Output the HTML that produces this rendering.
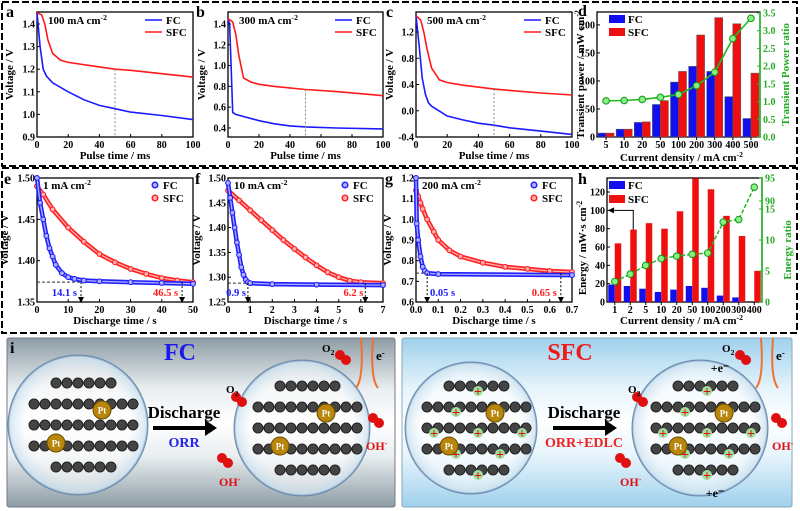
<!DOCTYPE html>
<html><head><meta charset="utf-8"><style>
html,body{margin:0;padding:0;background:#fff}
svg{display:block;font-family:"Liberation Serif",serif;font-weight:bold}
</style></head><body>
<svg id="fig" width="800" height="511" viewBox="0 0 800 511" xmlns="http://www.w3.org/2000/svg">
<defs>
<linearGradient id="gGray" x1="0" y1="0" x2="0" y2="1"><stop offset="0" stop-color="#8d9ca5"/><stop offset="0.3" stop-color="#e9eef0"/><stop offset="0.5" stop-color="#ffffff"/><stop offset="0.7" stop-color="#e9eef0"/><stop offset="1" stop-color="#8d9ca5"/></linearGradient>
<linearGradient id="gBlue" x1="0" y1="0" x2="0" y2="1"><stop offset="0" stop-color="#9fd0ec"/><stop offset="0.3" stop-color="#e6f4fb"/><stop offset="0.5" stop-color="#ffffff"/><stop offset="0.7" stop-color="#e6f4fb"/><stop offset="1" stop-color="#9fd0ec"/></linearGradient>
<radialGradient id="gBub" cx="0.5" cy="0.5" r="0.5"><stop offset="0.75" stop-color="#ffffff" stop-opacity="0.55"/><stop offset="0.97" stop-color="#cfe3f0" stop-opacity="0.8"/><stop offset="1" stop-color="#5a7fa8" stop-opacity="0.9"/></radialGradient>
<marker id="arr" markerWidth="6" markerHeight="6" refX="3" refY="3" orient="auto"><path d="M0,0 L6,3 L0,6z" fill="#000"/></marker>
</defs>
<rect x="0" y="0" width="800" height="511" fill="#fff"/>
<rect x="2" y="2" width="795" height="164" fill="none" stroke="#000" stroke-width="2" stroke-dasharray="7,3"/>
<rect x="2" y="168" width="795" height="165" fill="none" stroke="#000" stroke-width="2" stroke-dasharray="7,3"/>
<g id="charts"></g>
<g id="scheme"></g>
</svg>
<script>
// ---------- data ----------
const aT=[0,2,4,6,10,20,30,40,50,60,80,100];
const aFC=[1.45,1.3,1.2,1.17,1.14,1.1,1.065,1.04,1.025,1.01,0.995,0.977];
const aTs=[0,3,5,7,10,15,20,40,50,60,80,100];
const aSFC=[1.45,1.44,1.4,1.33,1.27,1.24,1.23,1.21,1.2,1.195,1.18,1.165];
const bT=[0,1,2,3,5,10,20,30,40,50,70,100];
const bFC=[1.45,1.4,1.0,0.55,0.53,0.51,0.47,0.44,0.42,0.41,0.4,0.39];
const bTs=[0,3,5,7,10,15,20,30,50,70,100];
const bSFC=[1.45,1.42,1.3,1.1,0.88,0.84,0.82,0.8,0.77,0.75,0.71];
const cT=[0,2,4,6,8,10,20,30,40,50,60,80,100];
const cFC=[1.45,1.0,0.5,0.25,0.12,0.07,-0.08,-0.14,-0.19,-0.22,-0.26,-0.31,-0.36];
const cTs=[0,3,5,7,10,15,20,30,40,50,60,80,100];
const cSFC=[1.45,1.38,1.2,0.95,0.65,0.47,0.43,0.39,0.36,0.33,0.31,0.27,0.24];
const dCats=["5","10","20","50","100","200","300","400","500"];
const dFC=[7,14,26,58,98,126,117,72,33];
const dSFC=[7,14,27,65,117,182,213,202,114];
const dRatio=[1.02,1.03,1.06,1.12,1.2,1.45,1.83,2.78,3.35];
const eT=[0,1,2,3,4,5,6,8,10,12,15,20,30,40,50];
const eFC=[1.5,1.47,1.45,1.43,1.415,1.405,1.395,1.385,1.38,1.378,1.376,1.375,1.374,1.373,1.372];
const eTs=[0,2,5,10,15,20,25,30,35,40,45,50];
const eSFC=[1.49,1.48,1.462,1.44,1.423,1.408,1.398,1.39,1.384,1.379,1.376,1.374];
const fT=[0,0.1,0.2,0.3,0.4,0.5,0.6,0.7,0.8,0.9,1,2,4,7];
const fFC=[1.49,1.46,1.43,1.4,1.37,1.345,1.32,1.305,1.295,1.29,1.288,1.286,1.285,1.284];
const fTs=[0,0.5,1,1.5,2,2.5,3,3.5,4,4.5,5,5.5,6,7];
const fSFC=[1.475,1.455,1.435,1.415,1.395,1.375,1.357,1.34,1.324,1.31,1.3,1.293,1.29,1.288];
const gT=[0,0.003,0.01,0.02,0.03,0.04,0.05,0.1,0.7];
const gFC=[1.2,0.98,0.9,0.82,0.77,0.75,0.74,0.735,0.73];
const gTs=[0,0.01,0.02,0.03,0.05,0.08,0.1,0.15,0.2,0.3,0.4,0.5,0.6,0.7];
const gSFC=[1.14,1.11,1.08,1.05,1.0,0.94,0.9,0.85,0.82,0.79,0.77,0.76,0.75,0.745];
const hCats=["1","2","5","10","20","50","100","200","300","400"];
const hFC=[19,17.5,14.5,11,13.5,17.5,15.5,7,5,0];
const hSFC=[64,79,86,80,99,135,123,94,72,34];
const hRatio=[3.3,4.5,5.9,7,7.4,7.7,7.9,12.9,13.3,93];

const NS="http://www.w3.org/2000/svg";
const root=document.getElementById('charts');
function el(tag,attrs,parent,text){const e=document.createElementNS(NS,tag);for(const k in attrs)e.setAttribute(k,attrs[k]);if(text!==undefined)e.textContent=text;(parent||root).appendChild(e);return e;}
function scale(d0,d1,r0,r1){return v=>r0+(v-d0)/(d1-d0)*(r1-r0);}
function txt(x,y,s,size,parent,anchor,fill,name){const t=el('text',{x:x,y:y,'font-size':size,'text-anchor':anchor||'middle',fill:fill||'#000'},parent,s);return t;}
function supText(x,y,main,sup,size,parent,anchor,fill,name,sub){const t=el('text',{x:x,y:y,'font-size':size,'text-anchor':anchor||'start',fill:fill||'#000'},parent);el('tspan',{},t,main);el('tspan',{dy:sub?3:-4,'font-size':size*0.7},t,sup);return t;}

function axes(g,P,xt,xl,yt,yl,sx,sy,xTitle,yTitle,yTitleX){
  const f=el('rect',{x:P.x0,y:P.y0,width:P.x1-P.x0,height:P.y1-P.y0,fill:'none',stroke:'#000','stroke-width':1.3},g);
  
  xt.forEach((v,i)=>{const x=sx(v);el('line',{x1:x,x2:x,y1:P.y1,y2:P.y1-3,stroke:'#000'},g);
    const t=txt(x,P.y1+11,xl[i],10,g);});
  yt.forEach((v,i)=>{const y=sy(v);el('line',{x1:P.x0,x2:P.x0+3,y1:y,y2:y,stroke:'#000'},g);
    const t=txt(P.x0-2,y+3.5,yl[i],10,g,'end');});
  if(xTitle){const t=txt((P.x0+P.x1)/2,P.y1+22,xTitle,11,g);}
  if(yTitle){const cy=(P.y0+P.y1)/2;const t=el('text',{x:yTitleX,y:cy,'font-size':11,'text-anchor':'middle',transform:`rotate(-90 ${yTitleX} ${cy})`},g,yTitle);}
}
function path(xs,ys,sx,sy){return xs.map((v,i)=>(i?'L':'M')+sx(v).toFixed(1)+','+sy(ys[i]).toFixed(1)).join(' ');}
function interpY(xs,ys,x){for(let i=1;i<xs.length;i++){if(x<=xs[i]){const r=(x-xs[i-1])/(xs[i]-xs[i-1]);return ys[i-1]+r*(ys[i]-ys[i-1]);}}return ys[ys.length-1];}

function linePanel(o){
  const g=el('g',{});
  const sx=scale(o.xd[0],o.xd[1],o.P.x0,o.P.x1),sy=scale(o.yd[0],o.yd[1],o.P.y1,o.P.y0);
  axes(g,o.P,o.xt,o.xt.map(v=>o.xfmt?o.xfmt(v):String(v)),o.yt,o.yt.map(v=>v.toFixed(o.ydec)),sx,sy,o.xTitle,'Voltage / V',o.ytx);
  const fcl=el('path',{d:path(o.t1,o.v1,sx,sy),fill:'none',stroke:'#1a1aff','stroke-width':1.6},g);
  
  const sfl=el('path',{d:path(o.t2,o.v2,sx,sy),fill:'none',stroke:'#ff1a1a','stroke-width':1.6},g);
  
  const x50=sx(50);
  const vl=el('line',{x1:x50,x2:x50,y1:sy(interpY(o.t2,o.v2,50)),y2:o.P.y1,stroke:'#888','stroke-dasharray':'2,2'},g);
  
  supText(o.P.x0+11,o.P.y0+12,o.cur,'-2',11,g,'start','#000','current-label');
  const lx=o.P.x1-48;
  const l1=el('line',{x1:lx,x2:lx+17,y1:o.P.y0+8,y2:o.P.y0+8,stroke:'#1a1aff','stroke-width':1.6},g);
  txt(lx+21,o.P.y0+12,'FC',11,g,'start','#000','legend-fc-label');
  const l2=el('line',{x1:lx,x2:lx+17,y1:o.P.y0+20,y2:o.P.y0+20,stroke:'#ff1a1a','stroke-width':1.6},g);
  txt(lx+21,o.P.y0+24,'SFC',11,g,'start','#000','legend-sfc-label');
  txt(o.lx,o.ly,o.letter,16,g,'start','#000','panel-letter-'+o.letter);
}
function scatterPanel(o){
  const g=el('g',{});
  const sx=scale(o.xd[0],o.xd[1],o.P.x0,o.P.x1),sy=scale(o.yd[0],o.yd[1],o.P.y1,o.P.y0);
  axes(g,o.P,o.xt,o.xt.map(v=>o.xfmt?o.xfmt(v):String(v)),o.yt,o.yt.map(v=>v.toFixed(o.ydec)),sx,sy,'Discharge time / s','Voltage / V',o.ytx);
  const hy=sy(o.ref);
  el('line',{x1:o.P.x0,x2:o.P.x1,y1:hy,y2:hy,stroke:'#333','stroke-dasharray':'3,2'},g);
  [[o.t2,o.v2,'#ff2020','#ffb0b0','sfc-series'],[o.t1,o.v1,'#2020ff','#b0b0ff','fc-series']].forEach(s=>{
    const p=el('path',{d:path(s[0],s[1],sx,sy),fill:'none',stroke:s[2],'stroke-width':4.5,'stroke-linejoin':'round'},g);
    
    el('path',{d:path(s[0],s[1],sx,sy),fill:'none',stroke:s[3],'stroke-width':1.3},g);
    s[0].forEach((v,i)=>{const c=el('circle',{cx:sx(v),cy:sy(s[1][i]),r:2.4,fill:s[3],stroke:s[2],'stroke-width':1.1},g);
      });
  });
  [[o.m1,'#1a1aff',o.m1t,o.m1dx],[o.m2,'#ff1a1a',o.m2t,o.m2dx]].forEach(m=>{
    const x=sx(m[0]);const ln=el('line',{x1:x,x2:x,y1:hy,y2:o.P.y1-2,stroke:'#000','stroke-dasharray':'2,2','marker-end':'url(#arr)'},g);
    
    txt(x+m[3],o.P.y1-6,m[2],10.5,g,'end',m[1],'time-annotation');
  });
  supText(o.P.x0+6,o.P.y0+11,o.cur,'-2',11,g,'start','#000','current-label');
  const lx=o.P.x1-38;
  const c1=el('circle',{cx:lx,cy:o.P.y0+7,r:2.8,fill:'#b0b0ff',stroke:'#2020ff','stroke-width':1.5},g);
  txt(lx+8,o.P.y0+11,'FC',11,g,'start','#000','legend-fc-label');
  const c2=el('circle',{cx:lx,cy:o.P.y0+20,r:2.8,fill:'#ffb0b0',stroke:'#ff2020','stroke-width':1.5},g);
  txt(lx+8,o.P.y0+24,'SFC',11,g,'start','#000','legend-sfc-label');
  txt(o.lx,o.ly,o.letter,16,g,'start','#000','panel-letter-'+o.letter);
}
linePanel({name:'panel-a',letter:'a',lx:6,ly:17,P:{x0:37,x1:193,y0:12,y1:137},xd:[0,100],yd:[0.9,1.453],xt:[0,20,40,60,80,100],yt:[0.9,1.0,1.1,1.2,1.3,1.4],ydec:1,xTitle:'Pulse time / ms',ytx:13,t1:aT,v1:aFC,t2:aTs,v2:aSFC,cur:'100 mA cm'});
linePanel({name:'panel-b',letter:'b',lx:196,ly:17,P:{x0:228,x1:383,y0:12,y1:137},xd:[0,100],yd:[0.313,1.515],xt:[0,20,40,60,80,100],yt:[0.4,0.6,0.8,1.0,1.2,1.4],ydec:1,xTitle:'Pulse time / ms',ytx:205,t1:bT,v1:bFC,t2:bTs,v2:bSFC,cur:'300 mA cm'});
linePanel({name:'panel-c',letter:'c',lx:386,ly:17,P:{x0:416,x1:572,y0:12,y1:137},xd:[0,100],yd:[-0.4,1.505],xt:[0,20,40,60,80,100],yt:[-0.4,0.0,0.4,0.8,1.2],ydec:1,xTitle:'Pulse time / ms',ytx:393,t1:cT,v1:cFC,t2:cTs,v2:cSFC,cur:'500 mA cm'});
scatterPanel({name:'panel-e',letter:'e',lx:4,ly:184,P:{x0:37,x1:193,y0:178,y1:302},xd:[0,50],yd:[1.35,1.5],xt:[0,10,20,30,40,50],yt:[1.35,1.40,1.45,1.50],ydec:2,ytx:8,t1:eT,v1:eFC,t2:eTs,v2:eSFC,ref:1.374,m1:14.1,m1t:'14.1 s',m1dx:-4,m2:46.5,m2t:'46.5 s',m2dx:-4,cur:'1 mA cm'});
scatterPanel({name:'panel-f',letter:'f',lx:195,ly:184,P:{x0:228,x1:383,y0:178,y1:302},xd:[0,7],yd:[1.25,1.5],xt:[0,1,2,3,4,5,6,7],yt:[1.25,1.30,1.35,1.40,1.45,1.50],ydec:2,ytx:200,t1:fT,v1:fFC,t2:fTs,v2:fSFC,ref:1.288,m1:0.9,m1t:'0.9 s',m1dx:-2,m2:6.2,m2t:'6.2 s',m2dx:-2,cur:'10 mA cm'});
scatterPanel({name:'panel-g',letter:'g',lx:385,ly:184,P:{x0:416,x1:572,y0:178,y1:302},xd:[0,0.7],yd:[0.6,1.2],xt:[0,0.1,0.2,0.3,0.4,0.5,0.6,0.7],xfmt:v=>v.toFixed(1),yt:[0.6,0.7,0.8,0.9,1.0,1.1,1.2],ydec:1,ytx:391,t1:gT,v1:gFC,t2:gTs,v2:gSFC,ref:0.74,m1:0.05,m1t:'0.05 s',m1dx:28,m2:0.65,m2t:'0.65 s',m2dx:-4,cur:'200 mA cm'});

// ---------- panel d ----------
(function(){
  const g=el('g',{});
  const P={x0:597,x1:760,y0:12,y1:137};
  const sy=scale(0,223,P.y1,P.y0),sr=scale(0,3.5,P.y1,13);
  const cw=(P.x1-P.x0)/dCats.length,cx=i=>P.x0+cw*(i+0.5);
  axes(g,P,[],[],[0,50,100,150,200],['0','50','100','150','200'],v=>v,sy,null,null,0);
  dCats.forEach((c,i)=>{
    const b1=el('rect',{x:cx(i)-8,y:sy(dFC[i]),width:8,height:P.y1-sy(dFC[i]),fill:'#1010ee',stroke:'#555','stroke-width':0.5},g);
    
    const b2=el('rect',{x:cx(i),y:sy(dSFC[i]),width:8,height:P.y1-sy(dSFC[i]),fill:'#ee1010',stroke:'#555','stroke-width':0.5},g);
    
    el('line',{x1:cx(i),x2:cx(i),y1:P.y1,y2:P.y1+3,stroke:'#000'},g);
    txt(cx(i),P.y1+11,c,10,g,'middle','#000','x-tick-label');
  });
  el('line',{x1:P.x1,x2:P.x1,y1:P.y0,y2:P.y1,stroke:'#22bb22','stroke-width':1.5},g);
  [0,0.5,1,1.5,2,2.5,3,3.5].forEach(v=>{el('line',{x1:P.x1,x2:P.x1-3,y1:sr(v),y2:sr(v),stroke:'#22bb22'},g);txt(P.x1+3,sr(v)+3.5,v.toFixed(1),10,g,'start','#22aa22','y2-tick-label');});
  const ln=el('path',{d:dRatio.map((v,i)=>(i?'L':'M')+cx(i)+','+sr(v)).join(' '),fill:'none',stroke:'#22bb22','stroke-width':1.6},g);
  
  dRatio.forEach((v,i)=>{const c=el('circle',{cx:cx(i),cy:sr(v),r:3.3,fill:'#88ee88',stroke:'#119911'},g);});
  supText(620,P.y1+24,'Current density / mA cm','-2',11,g,'start','#000','x-axis-title');
  const yt=el('text',{x:0,y:0,'font-size':11,'text-anchor':'middle',transform:`translate(584 ${(P.y0+P.y1)/2}) rotate(-90)`},g);
  el('tspan',{},yt,'Transient power / mW cm');el('tspan',{dy:-4,'font-size':8},yt,'-2');
  const y2=el('text',{x:0,y:0,'font-size':11,'text-anchor':'middle',fill:'#22aa22',transform:`translate(789 ${(P.y0+P.y1)/2}) rotate(-90)`},g,'Transient Power ratio');
  const k1=el('rect',{x:609,y:15,width:16,height:8,fill:'#1010ee'},g);
  txt(628,23,'FC',11,g,'start','#000','legend-fc-label');
  const k2=el('rect',{x:609,y:28,width:16,height:8,fill:'#ee1010'},g);
  txt(628,36,'SFC',11,g,'start','#000','legend-sfc-label');
  txt(578,16,'d',16,g,'start','#000','panel-letter-d');
})();

// ---------- panel h ----------
(function(){
  const g=el('g',{});
  const P={x0:607,x1:762,y0:178,y1:302};
  const sy=scale(0,135.3,P.y1,P.y0);
  const srLow=scale(0,5,P.y1,271),srHigh=scale(90,95,201,178);
  const sr=v=>v>50?srHigh(v):srLow(v);
  const cw=(P.x1-P.x0)/hCats.length,cx=i=>P.x0+cw*(i+0.5);
  axes(g,P,[],[],[0,20,40,60,80,100,120],['0','20','40','60','80','100','120'],v=>v,sy,null,null,0);
  hCats.forEach((c,i)=>{
    const b1=el('rect',{x:cx(i)-6.5,y:sy(hFC[i]),width:6.5,height:P.y1-sy(hFC[i]),fill:'#1010ee'},g);
    
    const b2=el('rect',{x:cx(i),y:sy(hSFC[i]),width:6.5,height:P.y1-sy(hSFC[i]),fill:'#ee1010'},g);
    
    el('line',{x1:cx(i),x2:cx(i),y1:P.y1,y2:P.y1+3,stroke:'#000'},g);
    txt(cx(i),P.y1+11,c,10,g,'middle','#000','x-tick-label');
  });
  el('line',{x1:P.x1,x2:P.x1,y1:P.y0,y2:P.y1,stroke:'#22bb22','stroke-width':1.5},g);
  [0,5,10,15].forEach(v=>{el('line',{x1:P.x1,x2:P.x1-3,y1:sr(v),y2:sr(v),stroke:'#22bb22'},g);txt(P.x1+3,sr(v)+3.5,String(v),10,g,'start','#22aa22','y2-tick-label');});
  [90,95].forEach(v=>{el('line',{x1:P.x1,x2:P.x1-3,y1:sr(v),y2:sr(v),stroke:'#22bb22'},g);txt(P.x1+3,sr(v)+3.5,String(v),10,g,'start','#22aa22','y2-tick-label');});
  const ln=el('path',{d:hRatio.map((v,i)=>(i?'L':'M')+cx(i).toFixed(1)+','+sr(v).toFixed(1)).join(' '),fill:'none',stroke:'#22bb22','stroke-width':1.5,'stroke-dasharray':'4,2'},g);
  
  hRatio.forEach((v,i)=>{const c=el('circle',{cx:cx(i),cy:sr(v),r:3.3,fill:'#88ee88',stroke:'#119911'},g);});
  const ar=el('path',{d:`M${cx(1)+3},${sy(hSFC[1])} L${cx(1)+3},${sy(100)} L${P.x0+4},${sy(100)}`,fill:'none',stroke:'#000','marker-end':'url(#arr)'},g);
  
  supText(620,P.y1+22,'Current density / mA cm','-2',11,g,'start','#000','x-axis-title');
  const yt=el('text',{x:0,y:0,'font-size':11,'text-anchor':'middle',transform:`translate(586 ${(P.y0+P.y1)/2+8}) rotate(-90)`},g);
  el('tspan',{},yt,'Energy / mW·s cm');el('tspan',{dy:-4,'font-size':8},yt,'-2');
  const y2=el('text',{x:0,y:0,'font-size':11,'text-anchor':'middle',fill:'#22aa22',transform:`translate(791 ${(P.y0+P.y1)/2+10}) rotate(-90)`},g,'Energy ratio');
  const k1=el('rect',{x:609,y:181,width:16,height:8,fill:'#1010ee'},g);
  txt(628,189,'FC',11,g,'start','#000','legend-fc-label');
  const k2=el('rect',{x:609,y:195,width:16,height:8,fill:'#ee1010'},g);
  txt(628,203,'SFC',11,g,'start','#000','legend-sfc-label');
  txt(578,184,'h',16,g,'start','#000','panel-letter-h');
})();

// ---------- scheme (panel i) ----------
(function(){
  const S=document.getElementById('scheme');
  const b1=el('rect',{x:7,y:338,width:388,height:169,fill:'url(#gGray)',stroke:'#778',rx:2},S);
  const b2=el('rect',{x:402,y:338,width:390,height:169,fill:'url(#gBlue)',stroke:'#8ab',rx:2},S);
  txt(10,353,'i',16,S,'start','#000','panel-letter-i');
  txt(180,360,'FC',24,S,'middle','#1a1aee','fc-title');
  txt(570,360,'SFC',24,S,'middle','#ee1a1a','sfc-title');
  function bubble(cx,cy,r,plus){
    const c=el('circle',{cx:cx,cy:cy,r:r,fill:'url(#gBub)',stroke:'#6a8cb0','stroke-width':1},S);
    
    for(let i=0;i<5;i++)for(let j=0;j<5;j++){
      const x=cx-44+i*22,y=cy-42+j*21;
      if(Math.hypot(x-cx,y-cy)>r-12)continue;
      el('line',{x1:x,y1:y,x2:x+11,y2:y,stroke:'#999','stroke-width':3},S);
      const a=el('circle',{cx:x,cy:y,r:5,fill:'#444',stroke:'#222'},S);
      const a2=el('circle',{cx:x+11,cy:y,r:5,fill:'#444',stroke:'#222'},S);
      if(plus&&(i+j)%2==0){el('circle',{cx:x+7,cy:y+5,r:5,fill:'#9fe09f'},S);txt(x+7,y+10,'+',14,S,'middle','#e01010','positive-charge');}
    }
    [[cx-22,cy+18],[cx+24,cy-15]].forEach(p=>{const pt=el('circle',{cx:p[0],cy:p[1],r:9,fill:'#b8860b',stroke:'#6b4a00'},S);txt(p[0],p[1]+3.5,'Pt',9,S,'middle','#fff','pt-label');});
  }
  bubble(78,425,70,false);bubble(302,428,68,false);bubble(471,428,66,true);bubble(700,428,68,true);
  function arrow(x1,x2,y,label,sub,subColor){
    const a=el('line',{x1:x1,x2:x2-8,y1:y,y2:y,stroke:'#000','stroke-width':4},S);
    el('path',{d:`M${x2-10},${y-8} L${x2+2},${y} L${x2-10},${y+8}z`,fill:'#000'},S);
    txt((x1+x2)/2,y-10,label,17,S,'middle','#000','discharge-label');
    txt((x1+x2)/2,y+19,sub,14,S,'middle',subColor,'process-label');
  }
  arrow(153,215,428,'Discharge','ORR','#2222ee');
  arrow(553,615,428,'Discharge','ORR+EDLC','#ee2222');
  function mol(x,y){el('circle',{cx:x,cy:y,r:5,fill:'#e01010'},S);el('circle',{cx:x+6,cy:y+5,r:5,fill:'#e01010'},S);}
  mol(236,397);supText(226,393,'O','2',11,S,'start','#000','o2-label',true);
  mol(340,355);supText(322,352,'O','2',11,S,'start','#000','o2-label',true);
  mol(637,397);supText(628,393,'O','2',11,S,'start','#000','o2-label',true);
  mol(740,355);supText(722,352,'O','2',11,S,'start','#000','o2-label',true);
  [[222,458,219,486],[373,418,366,450],[620,458,620,486],[776,418,772,450]].forEach(p=>{mol(p[0],p[1]);supText(p[2],p[3],'OH','-',12,S,'start','#e01010','oh-label');});
  [[378,338],[778,338]].forEach(p=>{el('path',{d:`M${p[0]-17},${p[1]} Q${p[0]-14},${p[1]+40} ${p[0]-22},${p[1]+50}`,fill:'none',stroke:'#f07030','stroke-width':2},S);el('path',{d:`M${p[0]-5},${p[1]} Q${p[0]-8},${p[1]+40} ${p[0]},${p[1]+50}`,fill:'none',stroke:'#f07030','stroke-width':2},S);supText(p[0]-2,p[1]+22,'e','-',13,S,'start','#000','electron-label');});
  txt(720,372,'+e⁻',12,S,'middle','#000','electron-label');
  txt(715,497,'+e⁻',12,S,'middle','#000','electron-label');
})();
</script>
</body></html>
